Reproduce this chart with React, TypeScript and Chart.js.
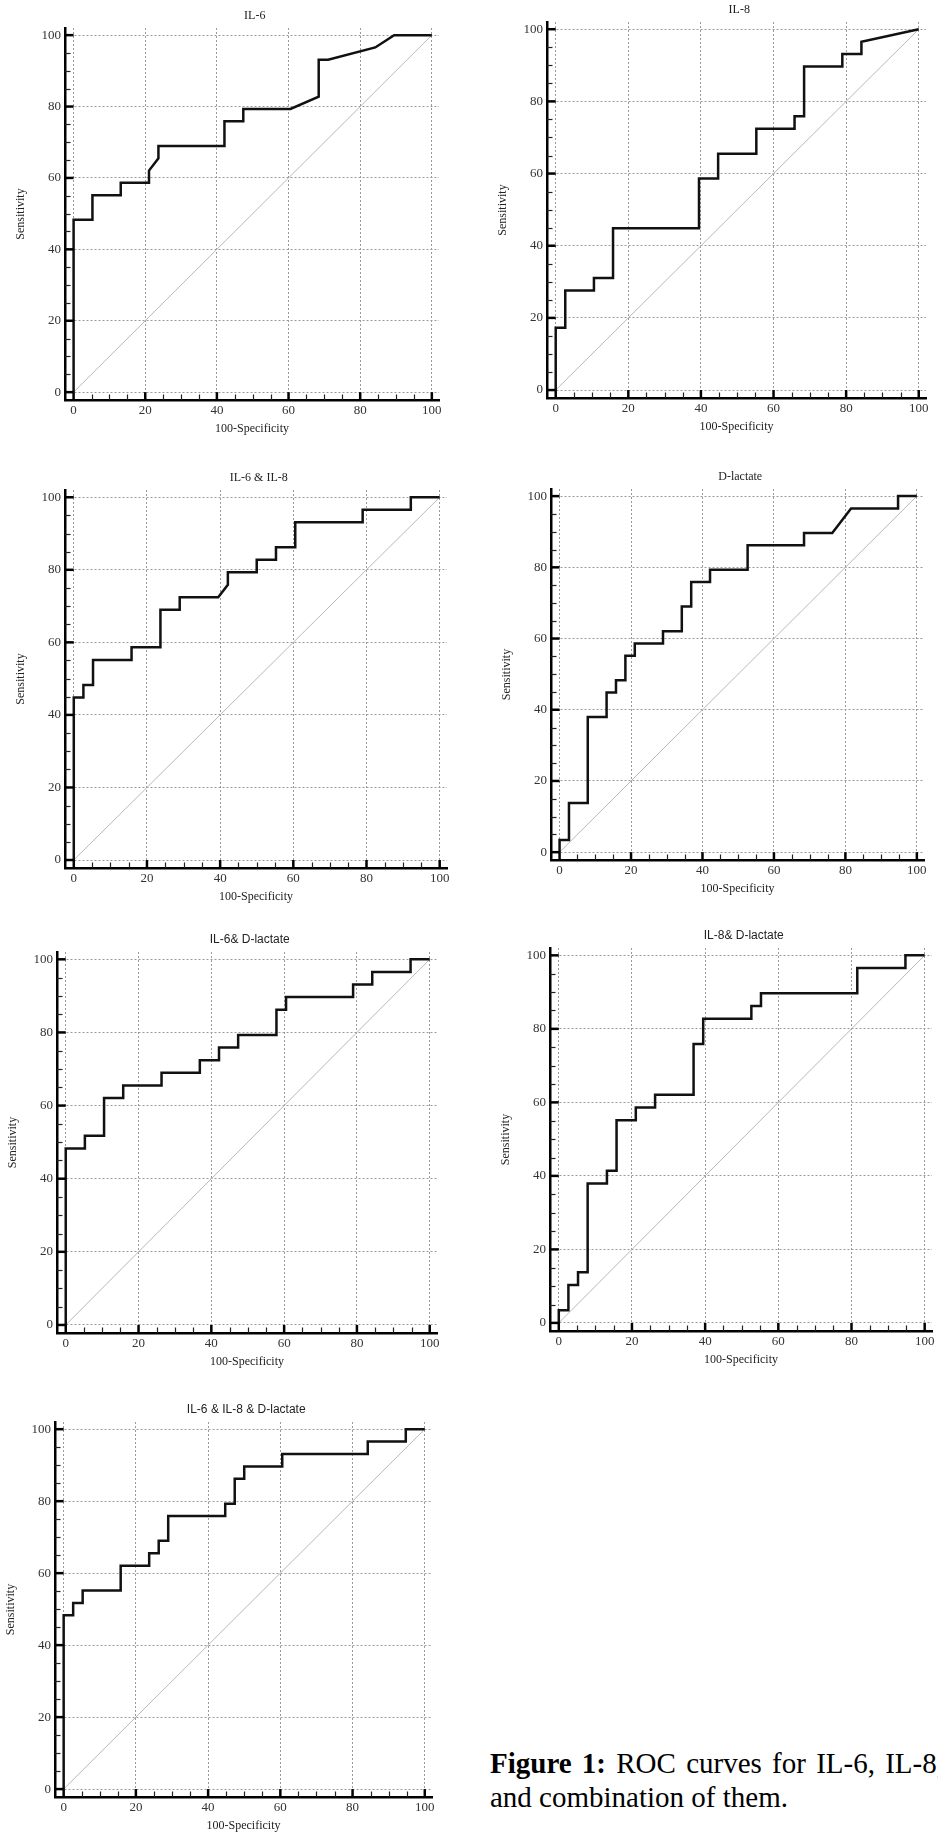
import React, { useEffect, useRef } from "react";
import { Chart, registerables } from "chart.js";

Chart.register(...registerables);

// ---------- data ----------
const axisTicks = [0, 20, 40, 60, 80, 100];
const minorTicks = [5, 10, 15, 25, 30, 35, 45, 50, 55, 65, 70, 75, 85, 90, 95];
const chanceX = [0, 100];
const chanceY = [0, 100];

const titles = [
  "IL-6",
  "IL-8",
  "IL-6 & IL-8",
  "D-lactate",
  "IL-6& D-lactate",
  "IL-8& D-lactate",
  "IL-6 & IL-8 & D-lactate",
];
const xAxisTitle = "100-Specificity";
const yAxisTitle = "Sensitivity";

const il6X = [0, 0, 5.26, 5.26, 13.16, 13.16, 21.05, 21.05, 23.68, 23.68, 42.11, 42.11, 47.37, 47.37, 60.53, 68.42, 68.42, 71.05, 84.21, 89.47, 100];
const il6Y = [0, 48.28, 48.28, 55.17, 55.17, 58.62, 58.62, 62.07, 65.52, 68.97, 68.97, 75.86, 75.86, 79.31, 79.31, 82.76, 93.1, 93.1, 96.55, 100, 100];

const il8X = [0, 0, 2.63, 2.63, 10.53, 10.53, 15.79, 15.79, 39.47, 39.47, 44.74, 44.74, 55.26, 55.26, 65.79, 65.79, 68.42, 68.42, 78.95, 78.95, 84.21, 84.21, 100];
const il8Y = [0, 17.24, 17.24, 27.59, 27.59, 31.03, 31.03, 44.83, 44.83, 58.62, 58.62, 65.52, 65.52, 72.41, 72.41, 75.86, 75.86, 89.66, 89.66, 93.1, 93.1, 96.55, 100];

const il6il8X = [0, 0, 2.63, 2.63, 5.26, 5.26, 15.79, 15.79, 23.68, 23.68, 28.95, 28.95, 39.47, 42.11, 42.11, 50, 50, 55.26, 55.26, 60.53, 60.53, 78.95, 78.95, 92.11, 92.11, 100];
const il6il8Y = [0, 44.83, 44.83, 48.28, 48.28, 55.17, 55.17, 58.62, 58.62, 68.97, 68.97, 72.41, 72.41, 75.86, 79.31, 79.31, 82.76, 82.76, 86.21, 86.21, 93.1, 93.1, 96.55, 96.55, 100, 100];

const dlacX = [0, 0, 2.63, 2.63, 7.89, 7.89, 13.16, 13.16, 15.79, 15.79, 18.42, 18.42, 21.05, 21.05, 28.95, 28.95, 34.21, 34.21, 36.84, 36.84, 42.11, 42.11, 52.63, 52.63, 68.42, 68.42, 76.32, 81.58, 94.74, 94.74, 100];
const dlacY = [0, 3.45, 3.45, 13.79, 13.79, 37.93, 37.93, 44.83, 44.83, 48.28, 48.28, 55.17, 55.17, 58.62, 58.62, 62.07, 62.07, 68.97, 68.97, 75.86, 75.86, 79.31, 79.31, 86.21, 86.21, 89.66, 89.66, 96.55, 96.55, 100, 100];

const il6dlacX = [0, 0, 5.26, 5.26, 10.53, 10.53, 15.79, 15.79, 26.32, 26.32, 36.84, 36.84, 42.11, 42.11, 47.37, 47.37, 57.89, 57.89, 60.53, 60.53, 78.95, 78.95, 84.21, 84.21, 94.74, 94.74, 100];
const il6dlacY = [0, 48.28, 48.28, 51.72, 51.72, 62.07, 62.07, 65.52, 65.52, 68.97, 68.97, 72.41, 72.41, 75.86, 75.86, 79.31, 79.31, 86.21, 86.21, 89.66, 89.66, 93.1, 93.1, 96.55, 96.55, 100, 100];

const il8dlacX = [0, 0, 2.63, 2.63, 5.26, 5.26, 7.89, 7.89, 13.16, 13.16, 15.79, 15.79, 21.05, 21.05, 26.32, 26.32, 36.84, 36.84, 39.47, 39.47, 52.63, 52.63, 55.26, 55.26, 81.58, 81.58, 94.74, 94.74, 100];
const il8dlacY = [0, 3.45, 3.45, 10.34, 10.34, 13.79, 13.79, 37.93, 37.93, 41.38, 41.38, 55.17, 55.17, 58.62, 58.62, 62.07, 62.07, 75.86, 75.86, 82.76, 82.76, 86.21, 86.21, 89.66, 89.66, 96.55, 96.55, 100, 100];

const allX = [0, 0, 2.63, 2.63, 5.26, 5.26, 15.79, 15.79, 23.68, 23.68, 26.32, 26.32, 28.95, 28.95, 44.74, 44.74, 47.37, 47.37, 50, 50, 60.53, 60.53, 84.21, 84.21, 94.74, 94.74, 100];
const allY = [0, 48.28, 48.28, 51.72, 51.72, 55.17, 55.17, 62.07, 62.07, 65.52, 65.52, 68.97, 68.97, 75.86, 75.86, 79.31, 79.31, 86.21, 86.21, 89.66, 89.66, 93.1, 93.1, 96.55, 96.55, 100, 100];

const seriesX = [il6X, il8X, il6il8X, dlacX, il6dlacX, il8dlacX, allX];
const seriesY = [il6Y, il8Y, il6il8Y, dlacY, il6dlacY, il8dlacY, allY];

const captionBold = "Figure 1:";
const captionLine1 = " ROC curves for IL-6, IL-8, D-lactate";
const captionLine2 = "and combination of them.";

// ---------- layout (chart areas in page px) ----------
const PANELS = [
  { l: 65.4, t: 27.9, r: 438.9, b: 400.2, sans: false },
  { l: 547.3, t: 22.1, r: 925.5, b: 397.9, sans: false },
  { l: 65.2, t: 490.4, r: 446.6, b: 868.3, sans: false },
  { l: 551.4, t: 488.6, r: 924.1, b: 860.1, sans: false },
  { l: 56.5, t: 952.0, r: 437.3, b: 1333.0, sans: true },
  { l: 549.9, t: 948.4, r: 932.3, b: 1330.8, sans: true },
  { l: 55.4, t: 1421.5, r: 431.5, b: 1796.9, sans: true },
];

const SERIF = "'Liberation Serif', 'Times New Roman', serif";
const SANS = "'Liberation Sans', Arial, sans-serif";
const PAD_L = 60;
const PAD_T = 24;
const PAD_R = 4;
const PAD_B = 40;

const decorPlugin = {
  id: "rocDecor",
  afterDraw(chart: any, _args: any, opts: any) {
    const { ctx, chartArea } = chart;
    const xs = chart.scales.x;
    const ys = chart.scales.y;
    const x0 = xs.getPixelForValue(0);
    const y0 = ys.getPixelForValue(0);
    ctx.save();
    ctx.strokeStyle = "#000";
    ctx.lineCap = "butt";
    ctx.lineWidth = 2.5;
    for (const v of axisTicks) {
      const px = xs.getPixelForValue(v);
      ctx.beginPath();
      ctx.moveTo(px, chartArea.bottom);
      ctx.lineTo(px, y0);
      ctx.stroke();
      const py = ys.getPixelForValue(v);
      ctx.beginPath();
      ctx.moveTo(chartArea.left, py);
      ctx.lineTo(x0, py);
      ctx.stroke();
    }
    ctx.lineWidth = 1.2;
    ctx.strokeStyle = "#222";
    for (const v of minorTicks) {
      const px = Math.round(xs.getPixelForValue(v)) + 0.5;
      ctx.beginPath();
      ctx.moveTo(px, chartArea.bottom);
      ctx.lineTo(px, chartArea.bottom - 5.5);
      ctx.stroke();
      const py = Math.round(ys.getPixelForValue(v)) + 0.5;
      ctx.beginPath();
      ctx.moveTo(chartArea.left, py);
      ctx.lineTo(chartArea.left + 5.5, py);
      ctx.stroke();
    }
    // panel title
    ctx.fillStyle = "#222";
    ctx.font = `12px ${opts.sans ? SANS : SERIF}`;
    ctx.textAlign = "center";
    ctx.textBaseline = "middle";
    const cx = (xs.getPixelForValue(0) + xs.getPixelForValue(100)) / 2 + 2;
    ctx.fillText(opts.title, cx, chartArea.top - 12);
    ctx.restore();
  },
};

function RocPanel({ idx }: { idx: number }) {
  const ref = useRef<HTMLCanvasElement>(null);
  const p = PANELS[idx];
  const L = Math.round(p.l);
  const T = Math.round(p.t);
  const R = Math.round(p.r);
  const B = Math.round(p.b);
  const left = L - PAD_L;
  const top = T - PAD_T;
  const width = R - L + PAD_L + PAD_R;
  const height = B - T + PAD_T + PAD_B;

  useEffect(() => {
    const xs = seriesX[idx];
    const ys = seriesY[idx];
    const roc = xs.map((x, i) => ({ x, y: ys[i] }));
    const chance = chanceX.map((x, i) => ({ x, y: chanceY[i] }));
    const chart = new Chart(ref.current as HTMLCanvasElement, {
      type: "scatter",
      data: {
        datasets: [
          {
            data: roc,
            showLine: true,
            borderColor: "#111",
            borderWidth: 2.5,
            pointRadius: 0,
            tension: 0,
            borderJoinStyle: "miter",
            order: 0,
          } as any,
          {
            data: chance,
            showLine: true,
            borderColor: "#b8b8b8",
            borderWidth: 1,
            pointRadius: 0,
            tension: 0,
            order: 1,
          } as any,
        ],
      },
      plugins: [decorPlugin],
      options: {
        responsive: false,
        animation: false,
        devicePixelRatio: 1,
        events: [],
        layout: { padding: { left: 0, top: PAD_T, right: PAD_R, bottom: 0 } },
        plugins: {
          legend: { display: false },
          tooltip: { enabled: false },
          title: { display: false },
          rocDecor: { title: titles[idx], sans: p.sans },
        } as any,
        scales: {
          x: {
            type: "linear",
            min: -2.4,
            max: 102,
            afterBuildTicks: (s: any) => {
              s.ticks = axisTicks.map((v) => ({ value: v }));
            },
            afterFit: (s: any) => {
              s.height = PAD_B;
              s.paddingLeft = 0;
              s.paddingRight = 0;
            },
            grid: { color: "#9a9a9a", lineWidth: 1, drawTicks: false },
            border: { display: true, color: "#000", width: 2.5, dash: [2, 2] },
            ticks: {
              font: { family: SERIF, size: 13 },
              color: "#333",
              padding: 3,
              maxRotation: 0,
              autoSkip: false,
            },
            title: {
              display: true,
              text: xAxisTitle,
              font: { family: SERIF, size: 12 },
              color: "#222",
              padding: { top: 0, bottom: 4 },
            },
          },
          y: {
            type: "linear",
            min: -2.2,
            max: 102,
            afterBuildTicks: (s: any) => {
              s.ticks = axisTicks.map((v) => ({ value: v }));
            },
            afterFit: (s: any) => {
              s.width = PAD_L;
              s.paddingTop = 0;
              s.paddingBottom = 0;
            },
            grid: { color: "#9a9a9a", lineWidth: 1, drawTicks: false },
            border: { display: true, color: "#000", width: 2.5, dash: [2, 2] },
            ticks: {
              font: { family: SERIF, size: 13 },
              color: "#333",
              padding: 4,
              autoSkip: false,
            },
            title: {
              display: true,
              text: yAxisTitle,
              font: { family: SERIF, size: 12 },
              color: "#222",
              padding: { top: 9, bottom: 0 },
            },
          },
        } as any,
      },
    });
    return () => chart.destroy();
  }, [idx]);

  return (
    <canvas
      ref={ref}
      width={width}
      height={height}
      style={{ position: "absolute", left, top, width, height, display: "block" }}
    />
  );
}

export default function App() {
  return (
    <div
      style={{
        position: "absolute",
        left: 0,
        top: 0,
        width: 938,
        height: 1839,
        overflow: "hidden",
        background: "#fff",
      }}
    >
      {PANELS.map((_, i) => (
        <RocPanel key={i} idx={i} />
      ))}
      <div
        style={{
          position: "absolute",
          left: 490,
          top: 1746,
          fontFamily: SERIF,
          fontSize: 29,
          lineHeight: "34px",
          color: "#000",
          whiteSpace: "nowrap",
        }}
      >
        <div style={{ wordSpacing: 3 }}>
          <b>{captionBold}</b>
          {captionLine1}
        </div>
        <div>{captionLine2}</div>
      </div>
    </div>
  );
}
